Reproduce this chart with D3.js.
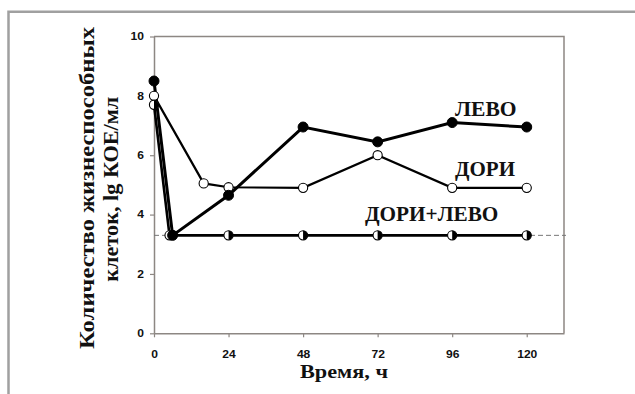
<!DOCTYPE html>
<html>
<head>
<meta charset="utf-8">
<script src="https://cdn.jsdelivr.net/npm/d3@7"></script>
<style>
  html, body { margin: 0; padding: 0; background: #fff; }
  svg { display: block; }
</style>
</head>
<body>
<svg id="chart" width="635" height="394"></svg>
<script>
// Viable cell counts over time, lg CFU/ml
const timeLevo  = [0, 6, 24, 48, 72, 96, 120];
const levo      = [8.5, 3.3, 4.65, 6.95, 6.45, 7.1, 6.95];
const timeDori  = [0, 16, 24, 48, 72, 96, 120];
const dori      = [8.0, 5.05, 4.92, 4.9, 6.0, 4.9, 4.9];
const timeCombo = [0, 5, 24, 48, 72, 96, 120];
const combo     = [7.7, 3.3, 3.3, 3.3, 3.3, 3.3, 3.3];
const detectionLimit = 3.3;

const xTicks = [0, 24, 48, 72, 96, 120];
const yTicks = [0, 2, 4, 6, 8, 10];
const seriesNames = ["ЛЕВО", "ДОРИ", "ДОРИ+ЛЕВО"];
const xTitle = "Время, ч";
const yTitle = ["Количество жизнеспособных", "клеток, lg КОЕ/мл"];

const svg = d3.select("#chart");
const frameColor = "#8d8783";

// outer frame
svg.append("path")
  .attr("d", "M8.5,394 V11.7 H635")
  .attr("fill", "none").attr("stroke", "#a0a0a0").attr("stroke-width", 2.5);

const x = d3.scaleLinear().domain([0, 132]).range([154, 564]);
const y = d3.scaleLinear().domain([0, 10]).range([333.3, 36.5]);

// plot box (top and right sides)
svg.append("path")
  .attr("d", `M${x(0)},${y(10)} H${x(132)} V${y(0)}`)
  .attr("fill", "none").attr("stroke", frameColor).attr("stroke-width", 1.5);

const tickFont = "'Liberation Sans', Arial, sans-serif";

const gx = svg.append("g").attr("transform", `translate(0,${y(0)})`)
  .call(d3.axisBottom(x).tickValues(xTicks).tickSize(4).tickPadding(13).tickSizeOuter(0));
const gy = svg.append("g").attr("transform", `translate(${x(0)},0)`)
  .call(d3.axisLeft(y).tickValues(yTicks).tickSize(4).tickPadding(6).tickSizeOuter(0));

[gx, gy].forEach(g => {
  g.select(".domain").attr("stroke", frameColor).attr("stroke-width", 1.5);
  g.selectAll(".tick line").attr("stroke", frameColor).attr("stroke-width", 1.2);
  g.selectAll(".tick text")
    .attr("font-family", tickFont).attr("font-weight", "bold")
    .attr("font-size", 10.5).attr("fill", "#111");
});
gx.selectAll(".tick text").attr("transform", "scale(1.15,1)");
gy.selectAll(".tick text").attr("transform", "scale(1.15,1)").attr("x", -10 / 1.15);

// detection limit
svg.append("line")
  .attr("x1", x(0)).attr("x2", x(132) + 2)
  .attr("y1", y(detectionLimit)).attr("y2", y(detectionLimit))
  .attr("stroke", "#777").attr("stroke-width", 1).attr("stroke-dasharray", "5,3");

const line = d3.line().x(d => x(d[0])).y(d => y(d[1]));
const zip = (t, v) => t.map((ti, i) => [ti, v[i]]);

const doriPts  = zip(timeDori, dori);
const comboPts = zip(timeCombo, combo);
const levoPts  = zip(timeLevo, levo);

svg.append("path").datum(doriPts).attr("d", line)
  .attr("fill", "none").attr("stroke", "#000").attr("stroke-width", 2.2);
svg.append("path").datum(comboPts).attr("d", line)
  .attr("fill", "none").attr("stroke", "#000").attr("stroke-width", 2.6);
svg.append("path").datum(levoPts).attr("d", line)
  .attr("fill", "none").attr("stroke", "#000").attr("stroke-width", 3);

// markers
svg.append("g").selectAll("circle").data(doriPts).join("circle")
  .attr("cx", d => x(d[0])).attr("cy", d => y(d[1])).attr("r", 4.6)
  .attr("fill", "#fff").attr("stroke", "#000").attr("stroke-width", 1.1);

const comboG = svg.append("g").selectAll("g").data(comboPts).join("g")
  .attr("transform", d => `translate(${x(d[0])},${y(d[1])})`);
comboG.append("circle").attr("r", 4.6)
  .attr("fill", "#fff").attr("stroke", "#000").attr("stroke-width", 1.1);
comboG.append("path").attr("d", "M0,-4.6 A4.6,4.6 0 0 1 0,4.6 Z").attr("fill", "#000");

svg.append("g").selectAll("circle").data(levoPts).join("circle")
  .attr("cx", d => x(d[0])).attr("cy", d => y(d[1])).attr("r", 5)
  .attr("fill", "#000").attr("stroke", "#000").attr("stroke-width", 1);

// series labels
const serif = "'Liberation Serif', 'Times New Roman', serif";
const labels = [
  { text: seriesNames[0], x0: 455, x1: 516.5, base: 115.5 },
  { text: seriesNames[1], x0: 455, x1: 515, base: 176 },
  { text: seriesNames[2], x0: 365, x1: 498.3, base: 221 }
];
svg.append("g").selectAll("text").data(labels).join("text")
  .attr("x", d => d.x0).attr("y", d => d.base)
  .attr("textLength", d => d.x1 - d.x0).attr("lengthAdjust", "spacingAndGlyphs")
  .attr("font-family", serif).attr("font-weight", "bold").attr("font-size", 21)
  .attr("fill", "#111").text(d => d.text);

// axis titles
svg.append("text")
  .attr("x", 300).attr("y", 377.5)
  .attr("textLength", 88).attr("lengthAdjust", "spacingAndGlyphs")
  .attr("font-family", serif).attr("font-weight", "bold").attr("font-size", 19)
  .attr("fill", "#111").text(xTitle);

const yLines = [
  { text: yTitle[0], base: 93.5, top: 27, bottom: 349 },
  { text: yTitle[1], base: 117.7, top: 96.7, bottom: 281.7 }
];
svg.append("g").selectAll("text").data(yLines).join("text")
  .attr("transform", d => `translate(${d.base},${d.bottom}) rotate(-90)`)
  .attr("textLength", d => d.bottom - d.top).attr("lengthAdjust", "spacingAndGlyphs")
  .attr("font-family", serif).attr("font-weight", "bold").attr("font-size", 22)
  .attr("fill", "#111").text(d => d.text);
</script>
</body>
</html>
